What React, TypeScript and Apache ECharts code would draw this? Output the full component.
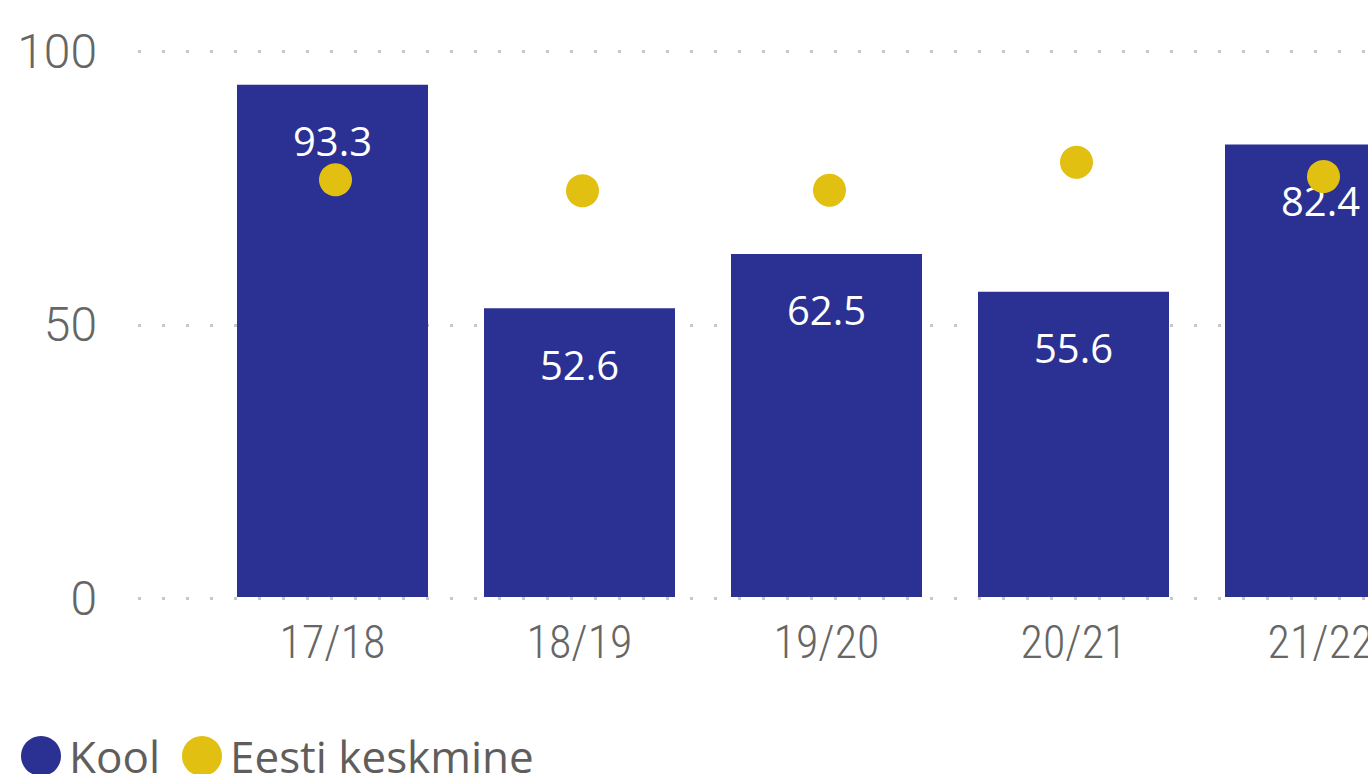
import React, { useEffect, useRef } from "react";
import * as echarts from "echarts";

const categories = ["17/18", "18/19", "19/20", "20/21", "21/22"];
const koolValues = [93.3, 52.6, 62.5, 55.6, 82.4];
const eestiValues = [76.0, 74.0, 74.1, 79.2, 76.6];
const yTicks = { min: 0, max: 100, interval: 50 };

const FONT = "'Open Sans', 'Noto Sans', sans-serif";
const LIGHT = "'Roboto Condensed', Roboto, 'Open Sans', sans-serif";
const YFONT = "Roboto, 'Open Sans', sans-serif";
const NAVY = "#2a3192";
const GOLD = "#e2c012";
const GRAY = "#666666";

export default function App() {
  const ref = useRef<HTMLDivElement>(null);

  useEffect(() => {
    if (!ref.current) return;
    const chart = echarts.init(ref.current, null, { renderer: "svg" });
    chart.setOption({
      animation: false,
      backgroundColor: "#ffffff",
      textStyle: { fontFamily: FONT },
      legend: {
        left: 21,
        top: 734,
        icon: "circle",
        itemWidth: 40,
        itemHeight: 40,
        itemGap: 22,
        padding: 0,
        textStyle: {
          fontFamily: FONT,
          fontSize: 44,
          color: "#605e5c",
          padding: [0, 0, 0, 3],
        },
        data: ["Kool", "Eesti keskmine"],
      },
      grid: [
        { left: 138, right: 0, top: 51, bottom: 175.5, outerBoundsMode: "none" },
        { left: 209, width: 1235, top: 48, bottom: 177, outerBoundsMode: "none" },
      ],
      xAxis: [
        { type: "value", gridIndex: 0, show: false, min: 0, max: 1 },
        {
          type: "category",
          gridIndex: 1,
          data: categories,
          axisLine: { show: false },
          axisTick: { show: false },
          axisLabel: {
            fontFamily: LIGHT,
            fontWeight: 300,
            fontSize: 46,
            color: GRAY,
            margin: 22,
          },
        },
      ],
      yAxis: [
        {
          type: "value",
          gridIndex: 0,
          min: yTicks.min,
          max: yTicks.max,
          interval: yTicks.interval,
          axisLine: { show: false },
          axisTick: { show: false },
          axisLabel: {
            fontFamily: YFONT,
            fontWeight: 300,
            fontSize: 48,
            color: GRAY,
            margin: 41,
          },
          splitLine: {
            show: true,
            lineStyle: { color: "#c8c8c8", width: 3, type: [3, 21] },
          },
        },
        {
          type: "value",
          gridIndex: 1,
          min: yTicks.min,
          max: yTicks.max,
          interval: yTicks.interval,
          show: false,
          splitLine: { show: false },
        },
      ],
      series: [
        {
          name: "Kool",
          type: "bar",
          xAxisIndex: 1,
          yAxisIndex: 1,
          data: koolValues,
          barWidth: 191,
          itemStyle: { color: NAVY },
          label: {
            show: true,
            position: "insideTop",
            distance: 36,
            color: "#ffffff",
            fontFamily: FONT,
            fontSize: 40,
            formatter: (p: any) => p.value.toFixed(1),
          },
          z: 2,
        },
        {
          name: "Eesti keskmine",
          type: "scatter",
          xAxisIndex: 1,
          yAxisIndex: 1,
          data: eestiValues,
          symbol: "circle",
          symbolSize: 33,
          symbolOffset: [3, 0],
          itemStyle: { color: GOLD, opacity: 1 },
          z: 3,
        },
      ],
    });
    return () => chart.dispose();
  }, []);

  return (
    <div
      ref={ref}
      style={{ position: "fixed", left: 0, top: 0, width: 1368, height: 774 }}
    />
  );
}
